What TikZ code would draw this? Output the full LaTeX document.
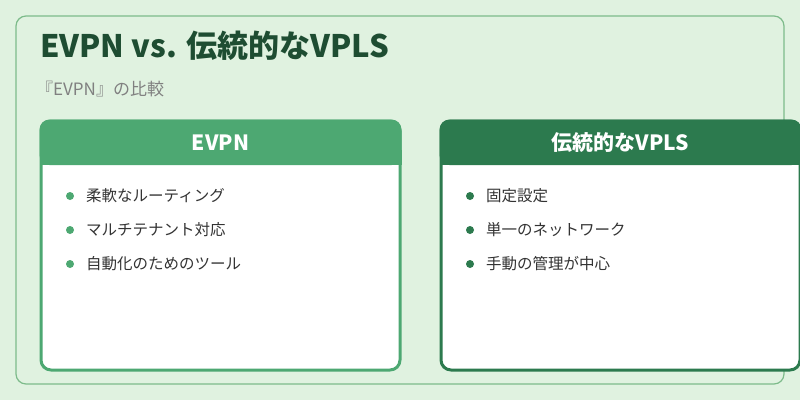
\documentclass[tikz,border=0pt]{standalone}
\usepackage{fontspec}
\setmainfont{Noto Sans CJK JP}
\definecolor{bgpale}{HTML}{E0F2E0}
\definecolor{framegreen}{HTML}{7DBB8A}
\definecolor{titlegreen}{HTML}{1E4D32}
\definecolor{evpngreen}{HTML}{4DA872}
\definecolor{vplsgreen}{HTML}{2C7A4E}
\definecolor{itemtext}{HTML}{333333}
\tikzset{
  itemtext/.style={anchor=west, text=itemtext, font=\fontsize{15.5}{18}\selectfont, inner sep=0pt},
  headtext/.style={text=white, font=\fontsize{21}{24}\selectfont\bfseries},
}
\begin{document}
\begin{tikzpicture}[x=1pt, y=-1pt]
    \useasboundingbox (0,0) rectangle (800,400);
    \fill[bgpale] (0,0) rectangle (800,400);
    \draw[framegreen, line width=1.2pt, rounded corners=10pt] (16,16) rectangle (784,384);

    \node[anchor=west, text=titlegreen, font=\fontsize{31}{36}\selectfont\bfseries, inner sep=0pt] (title) at (40,46) {EVPN vs. 伝統的なVPLS};
    \node[anchor=west, text=gray, font=\fontsize{17}{20}\selectfont, inner sep=0pt] (subtitle) at (36,89) {『EVPN』の比較};

    % cards
    \foreach \x/\col/\head in {41/evpngreen/EVPN, 441/vplsgreen/伝統的なVPLS} {
        \fill[white, draw=\col, line width=3pt, rounded corners=10pt] (\x,121) rectangle ++(359,249);
        \fill[\col, rounded corners=10pt] (\x-1.5,119.5) rectangle ++(362,45.5);
        \fill[\col] (\x-1.5,150) rectangle ++(362,15);
        \node[headtext] at (\x+179.5,143) {\head};
    }

    \foreach \t [count=\i] in {柔軟なルーティング, マルチテナント対応, 自動化のためのツール} {
        \fill[evpngreen] (70,162+34*\i) circle (4pt);
        \node[itemtext] (evpn\i) at (86,162+34*\i) {\t};
    }
    \foreach \t [count=\i] in {固定設定, 単一のネットワーク, 手動の管理が中心} {
        \fill[vplsgreen] (470,162+34*\i) circle (4pt);
        \node[itemtext] (vpls\i) at (486,162+34*\i) {\t};
    }
\end{tikzpicture}
\end{document}
